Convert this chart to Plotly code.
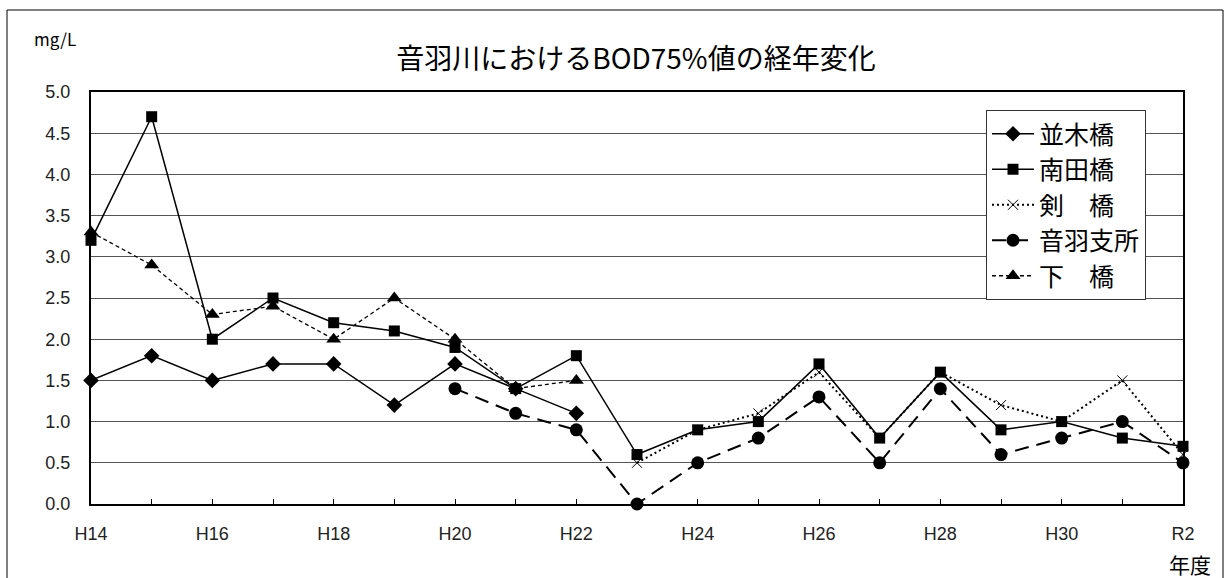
import plotly.graph_objects as go

years = ["H14", "H15", "H16", "H17", "H18", "H19", "H20", "H21", "H22", "H23",
         "H24", "H25", "H26", "H27", "H28", "H29", "H30", "R1", "R2"]
tick_labels = ["H14", "", "H16", "", "H18", "", "H20", "", "H22", "",
               "H24", "", "H26", "", "H28", "", "H30", "", "R2"]

namiki = [1.5, 1.8, 1.5, 1.7, 1.7, 1.2, 1.7, 1.4, 1.1, None,
          None, None, None, None, None, None, None, None, None]
minamida = [3.2, 4.7, 2.0, 2.5, 2.2, 2.1, 1.9, 1.4, 1.8, 0.6,
            0.9, 1.0, 1.7, 0.8, 1.6, 0.9, 1.0, 0.8, 0.7]
tsurugi = [None, None, None, None, None, None, None, None, None, 0.5,
           0.9, 1.1, 1.6, 0.8, 1.6, 1.2, 1.0, 1.5, 0.6]
otowa = [None, None, None, None, None, None, 1.4, 1.1, 0.9, 0.0,
         0.5, 0.8, 1.3, 0.5, 1.4, 0.6, 0.8, 1.0, 0.5]
shimo = [3.3, 2.9, 2.3, 2.4, 2.0, 2.5, 2.0, 1.4, 1.5, None,
         None, None, None, None, None, None, None, None, None]

JP = "Noto Sans CJK JP"

fig = go.Figure()
fig.add_trace(go.Scatter(x=years, y=namiki, name="並木橋", mode="lines+markers",
                         line=dict(color="black", width=1.5),
                         marker=dict(symbol="diamond", size=12, color="black"),
                         cliponaxis=False))
fig.add_trace(go.Scatter(x=years, y=minamida, name="南田橋", mode="lines+markers",
                         line=dict(color="black", width=1.5),
                         marker=dict(symbol="square", size=11, color="black"),
                         cliponaxis=False))
fig.add_trace(go.Scatter(x=years, y=tsurugi, name="剣　橋", mode="lines+markers",
                         line=dict(color="black", width=2, dash="2px,3px"),
                         marker=dict(symbol="x-thin-open", size=10,
                                     line=dict(color="black", width=1)),
                         cliponaxis=False))
fig.add_trace(go.Scatter(x=years, y=otowa, name="音羽支所", mode="lines+markers",
                         line=dict(color="black", width=2, dash="14px,8px"),
                         marker=dict(symbol="circle", size=13, color="black"),
                         cliponaxis=False))
fig.add_trace(go.Scatter(x=years, y=shimo, name="下　橋", mode="lines+markers",
                         line=dict(color="black", width=1.3, dash="4px,3px"),
                         marker=dict(symbol="triangle-up", size=13, color="black"),
                         cliponaxis=False))

L, R, T, B = 91, 1183, 92, 504
W, H = 1226, 578
pw, ph = R - L, B - T


def px(x):
    return (x - L) / pw


def py(y):
    return (B - y) / ph


fig.update_layout(
    width=W, height=H,
    margin=dict(l=L, r=W - R, t=T, b=H - B, pad=0),
    paper_bgcolor="white", plot_bgcolor="white",
    font=dict(family=JP, color="black"),
    showlegend=True,
    legend=dict(x=px(986), y=py(110), xanchor="left", yanchor="top",
                bgcolor="white", bordercolor="#333", borderwidth=1,
                font=dict(family=JP, size=25, color="black"),
                itemwidth=42, tracegroupgap=0),
    xaxis=dict(type="category", categoryorder="array", categoryarray=years,
               range=[0, 18], tickmode="array", tickvals=years, ticktext=tick_labels,
               ticks="inside", ticklen=5, tickwidth=1, tickcolor="black",
               showline=True, linecolor="black", linewidth=2, mirror=True,
               showgrid=False, zeroline=False,
               tickfont=dict(family="Liberation Sans", size=18, color="#222"),
               ticklabelstandoff=12),
    yaxis=dict(range=[0, 5], tick0=0, dtick=0.5, tickformat=".1f",
               showline=True, linecolor="black", linewidth=2, mirror=True,
               showgrid=True, gridcolor="#555", gridwidth=1, zeroline=False,
               ticks="", tickfont=dict(family="Liberation Sans", size=18, color="#222"),
               ticklabelstandoff=15),
    title=dict(text="音羽川におけるBOD75%値の経年変化", x=636 / W, xanchor="center",
               y=1 - 59 / H, yanchor="middle",
               font=dict(family=JP, size=28, color="black")),
    annotations=[
        dict(text="mg/L", xref="paper", yref="paper", x=px(32), y=py(38),
             xanchor="left", yanchor="middle", showarrow=False,
             font=dict(family=JP, size=17, color="black")),
        dict(text="年度", xref="paper", yref="paper", x=px(1190), y=py(564),
             xanchor="center", yanchor="middle", showarrow=False,
             font=dict(family=JP, size=21, color="black")),
    ],
    shapes=[
        dict(type="rect", xref="paper", yref="paper",
             x0=px(7), x1=px(1223), y0=py(600), y1=py(10),
             line=dict(color="black", width=1), fillcolor="rgba(0,0,0,0)", layer="below"),
    ],
)

fig.write_html("out.html", config={"displayModeBar": False},
               post_script="document.body.style.margin='0';document.body.style.overflow='hidden';")
